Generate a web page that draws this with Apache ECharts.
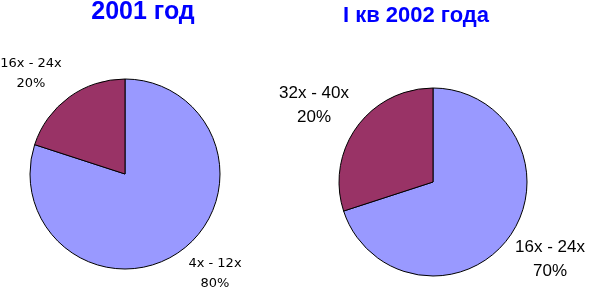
<!DOCTYPE html>
<html><head><meta charset="utf-8">
<script src="https://cdn.jsdelivr.net/npm/echarts@6/dist/echarts.min.js"></script>
<style>html,body{margin:0;padding:0;background:#fff}#c{width:590px;height:289px}</style>
</head><body><div id="c"></div>
<script>
const titles = ['2001 год', 'I кв 2002 года'];
const cats2001 = ['4x - 12x', '16x - 24x'];
const vals2001 = [80, 20];
const pct2001 = ['80%', '20%'];
const cats2002 = ['16x - 24x', '32x - 40x'];
const vals2002 = [70, 30];
const pct2002 = ['70%', '20%'];
const colors = ['#9999FF', '#993366'];

const chart = echarts.init(document.getElementById('c'), null, {renderer: 'canvas'});
function mk(cats, vals, pct) {
  return cats.map((c, i) => ({name: c, value: vals[i], pct: pct[i], itemStyle: {color: colors[i]}}));
}
const leftPos = [[215, 274], [31, 74]];
const rightPos = [[550, 259], [314, 105]];
chart.setOption({
  animation: false,
  title: [
    {text: titles[0], left: 138, top: -5, textAlign: 'center',
     textStyle: {fontFamily: 'Liberation Sans', fontWeight: 'bold', fontSize: 25, color: '#0000FF'}},
    {text: titles[1], left: 411, top: 0, textAlign: 'center',
     textStyle: {fontFamily: 'Liberation Sans', fontWeight: 'bold', fontSize: 22, color: '#0000FF'}}
  ],
  series: [
    {type: 'pie', center: [125, 174], radius: 95, startAngle: 90, clockwise: true,
     itemStyle: {borderColor: '#000', borderWidth: 1},
     label: {show: true, position: 'outside', formatter: p => p.name + '\n' + p.data.pct,
       overflow: 'none', width: 200,
       fontFamily: 'DejaVu Sans', fontSize: 13, color: '#000', lineHeight: 20, align: 'center'},
     labelLine: {show: false},
     labelLayout: p => ({x: leftPos[p.dataIndex][0], y: leftPos[p.dataIndex][1], align: 'center', verticalAlign: 'middle'}),
     emphasis: {disabled: true},
     data: mk(cats2001, vals2001, pct2001)},
    {type: 'pie', center: [433, 182], radius: 94, startAngle: 90, clockwise: true,
     itemStyle: {borderColor: '#000', borderWidth: 1},
     label: {show: true, position: 'outside', formatter: p => p.name + '\n' + p.data.pct,
       overflow: 'none', width: 200,
       fontFamily: 'Liberation Sans', fontSize: 17, color: '#000', lineHeight: 24, align: 'center'},
     labelLine: {show: false},
     labelLayout: p => ({x: rightPos[p.dataIndex][0], y: rightPos[p.dataIndex][1], align: 'center', verticalAlign: 'middle'}),
     emphasis: {disabled: true},
     data: mk(cats2002, vals2002, pct2002)}
  ]
});
</script></body></html>
